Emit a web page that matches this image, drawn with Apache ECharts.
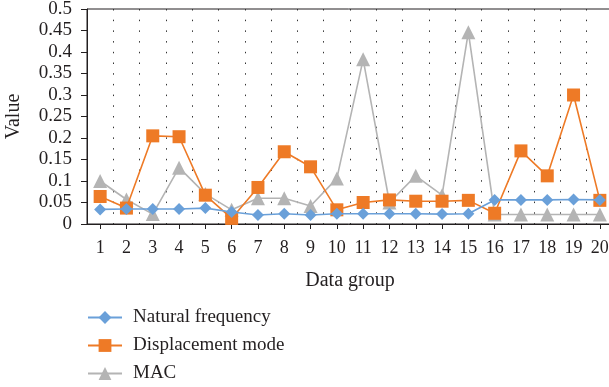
<!DOCTYPE html>
<html>
<head>
<meta charset="utf-8">
<script src="https://cdn.jsdelivr.net/npm/echarts@6/dist/echarts.min.js"></script>
<style>
  html, body { margin: 0; padding: 0; background: #fff; }
  #chart { width: 609px; height: 387px; }
</style>
</head>
<body>
<div id="chart"></div>
<script>
// Data groups along the horizontal axis
const groups = ['1','2','3','4','5','6','7','8','9','10','11','12','13','14','15','16','17','18','19','20'];

// Series values
const naturalFrequency = [0.034, 0.035, 0.035, 0.035, 0.037, 0.028, 0.021, 0.024, 0.021, 0.024,
                          0.024, 0.024, 0.024, 0.023, 0.024, 0.056, 0.056, 0.056, 0.057, 0.056];
const displacementMode = [0.064, 0.037, 0.205, 0.203, 0.067, 0.013, 0.085, 0.168, 0.133, 0.033,
                          0.050, 0.056, 0.053, 0.053, 0.055, 0.025, 0.170, 0.112, 0.300, 0.055];
const mac = [0.100, 0.057, 0.023, 0.131, 0.070, 0.033, 0.060, 0.060, 0.042, 0.106,
             0.383, 0.050, 0.112, 0.067, 0.446, 0.022, 0.022, 0.022, 0.022, 0.022];

const serif = '"Liberation Serif", "DejaVu Serif", serif';
const ink = '#231f20';

const chart = echarts.init(document.getElementById('chart'), null, { renderer: 'canvas' });

chart.setOption({
  animation: false,
  textStyle: { fontFamily: serif, color: ink },
  grid: {
    left: 87, top: 9, width: 526, height: 215,
    containLabel: false,
    outerBoundsMode: 'none',
    show: true, borderColor: ink, borderWidth: 1, backgroundColor: 'transparent'
  },
  legend: {
    orient: 'vertical',
    left: 87, top: 308,
    padding: 0,
    itemWidth: 34, itemHeight: 16, itemGap: 9,
    textStyle: { fontFamily: serif, fontSize: 19, color: ink, padding: [0, 0, 0, 6] },
    data: ['Natural frequency', 'Displacement mode', 'MAC']
  },
  xAxis: {
    type: 'category',
    data: groups,
    boundaryGap: true,
    name: 'Data group',
    nameLocation: 'middle',
    nameGap: 47,
    nameMoveOverlap: false,
    nameTextStyle: { fontFamily: serif, fontSize: 20, color: ink },
    axisLine: { lineStyle: { color: ink, width: 1 } },
    axisTick: { show: true, alignWithLabel: true, length: 5, lineStyle: { color: ink } },
    axisLabel: { fontFamily: serif, fontSize: 18, color: ink, margin: 15 },
    splitLine: { show: true, lineStyle: { color: '#333', width: 1, type: [1.5, 9.2] } }
  },
  yAxis: {
    type: 'value',
    min: 0, max: 0.5, interval: 0.05,
    name: 'Value',
    nameLocation: 'middle',
    nameGap: 63,
    nameRotate: 90,
    nameMoveOverlap: false,
    nameTextStyle: { fontFamily: serif, fontSize: 20, color: ink },
    axisLine: { show: true, lineStyle: { color: ink, width: 1 } },
    axisTick: { show: true, length: 6, lineStyle: { color: ink } },
    axisLabel: { fontFamily: serif, fontSize: 19, color: ink, margin: 15 },
    splitLine: { show: false }
  },
  series: [
    {
      name: 'Natural frequency',
      type: 'line',
      data: naturalFrequency,
      symbol: 'diamond',
      symbolSize: 12,
      itemStyle: { color: '#6aa0d9' },
      lineStyle: { color: '#6aa0d9', width: 1.6 },
      z: 4
    },
    {
      name: 'Displacement mode',
      type: 'line',
      data: displacementMode,
      symbol: 'rect',
      symbolSize: 13,
      itemStyle: { color: '#ee7a26' },
      lineStyle: { color: '#ee7a26', width: 1.6 },
      z: 3
    },
    {
      name: 'MAC',
      type: 'line',
      data: mac,
      symbol: 'triangle',
      symbolSize: 14,
      itemStyle: { color: '#b4b4b4' },
      lineStyle: { color: '#b4b4b4', width: 1.6 },
      z: 2
    }
  ]
});
</script>
</body>
</html>
